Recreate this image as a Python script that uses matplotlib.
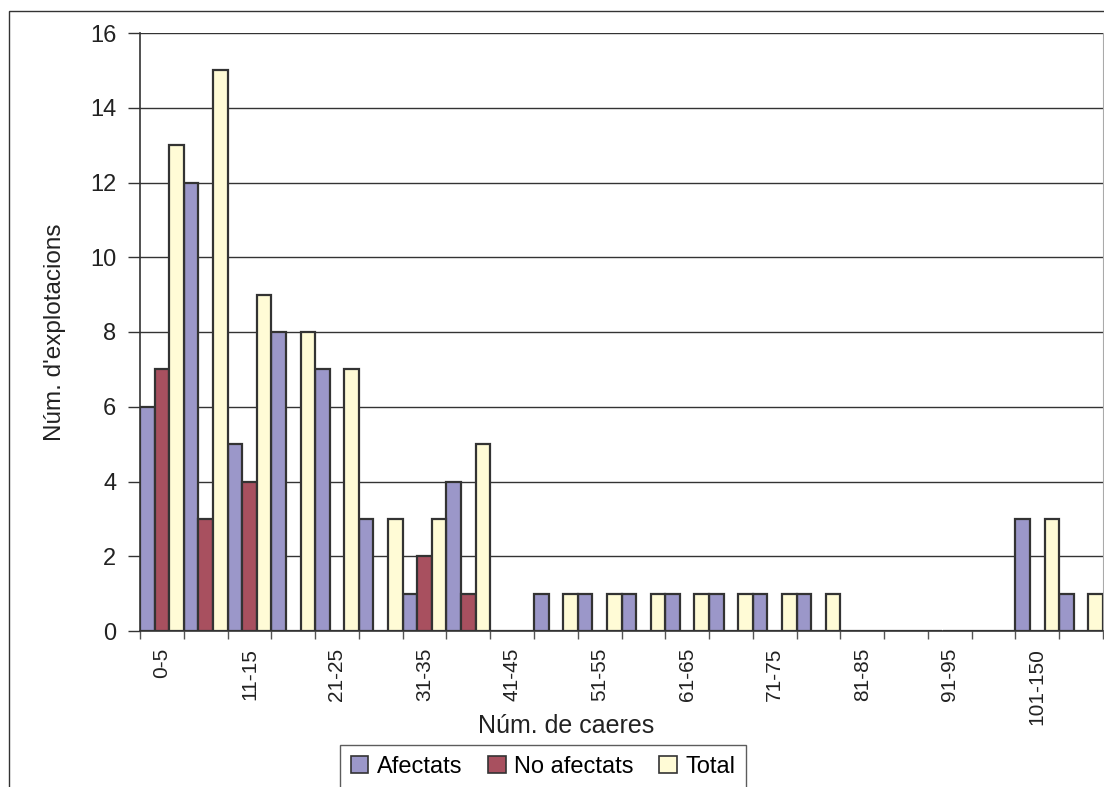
import numpy as np
import matplotlib.pyplot as plt
from matplotlib.patches import Rectangle

plt.rcParams['font.family'] = ['Liberation Sans', 'DejaVu Sans']

# categories (num. de caeres)
categories = ['0-5', '6-10', '11-15', '16-20', '21-25', '26-30', '31-35', '36-40',
              '41-45', '46-50', '51-55', '56-60', '61-65', '66-70', '71-75', '76-80',
              '81-85', '86-90', '91-95', '96-100', '101-150', '>150']
afectats = [6, 12, 5, 8, 7, 3, 1, 4, 0, 1, 1, 1, 1, 1, 1, 1, 0, 0, 0, 0, 3, 1]
no_afectats = [7, 3, 4, 0, 0, 0, 2, 1, 0, 0, 0, 0, 0, 0, 0, 0, 0, 0, 0, 0, 0, 0]
total = [13, 15, 9, 8, 7, 3, 3, 5, 0, 1, 1, 1, 1, 1, 1, 1, 0, 0, 0, 0, 3, 1]

W, H = 1104, 787
fig = plt.figure(figsize=(W / 100, H / 100), dpi=100)
ax = fig.add_axes([140 / W, 1 - 631 / H, 963 / W, 598 / H])

x = np.arange(len(categories))
bw = 1 / 3
edge = '#333333'
ax.bar(x - bw, afectats, bw, color='#9b97c9', edgecolor=edge, linewidth=1.6, label='Afectats', zorder=3)
ax.bar(x, no_afectats, bw, color='#a8505f', edgecolor=edge, linewidth=1.6, label='No afectats', zorder=3)
ax.bar(x + bw, total, bw, color='#fffbd6', edgecolor=edge, linewidth=1.6, label='Total', zorder=3)

ax.set_xlim(-0.5, len(categories) - 0.5)
ax.set_ylim(0, 16)
ax.set_yticks(np.arange(0, 17, 2))
ax.yaxis.grid(True, color='#333333', linewidth=1.0, zorder=0)
ax.tick_params(axis='y', direction='out', length=9, width=1, color='#333333',
               labelsize=17, labelcolor='#222222', pad=8)

ax.set_xticks(x)
ax.set_xticklabels([c if i % 2 == 0 else '' for i, c in enumerate(categories)],
                   rotation=90, fontsize=15, color='#222222')
ax.tick_params(axis='x', which='major', length=0, pad=12)
ax.set_xticks(np.arange(-0.5, len(categories), 1), minor=True)
ax.tick_params(axis='x', which='minor', direction='out', length=6, width=1, color='#555555')

for s in ['left', 'bottom']:
    ax.spines[s].set_color('#333333')
    ax.spines[s].set_linewidth(1.2)
ax.spines['top'].set_visible(False)
ax.spines['right'].set_color('#aaaaaa')

fig.text(55 / W, 1 - 332 / H, "Núm. d'explotacions", rotation=90, ha='center', va='center',
         fontsize=17.5, color='#222222')
fig.text(566 / W, 1 - 733 / H, 'Núm. de caeres', ha='center', va='baseline',
         fontsize=18, color='#222222')

leg = ax.legend(loc='upper center', bbox_to_anchor=(543 / W, 1 - 745 / H),
                bbox_transform=fig.transFigure, ncol=3, fontsize=17,
                frameon=True, fancybox=False, edgecolor='#333333',
                handlelength=0.75, handleheight=0.75, handletextpad=0.35,
                columnspacing=1.1, borderpad=0.45, borderaxespad=0)
leg.get_frame().set_linewidth(1.0)
for h in leg.legend_handles:
    h.set_linewidth(1.2)

fig.patches.append(Rectangle((9 / W, -0.1), 1.2, 1.1 - 11 / H, transform=fig.transFigure,
                             fill=False, edgecolor='#333333', linewidth=1.0, zorder=0))

fig.savefig('out.png', dpi=100)
